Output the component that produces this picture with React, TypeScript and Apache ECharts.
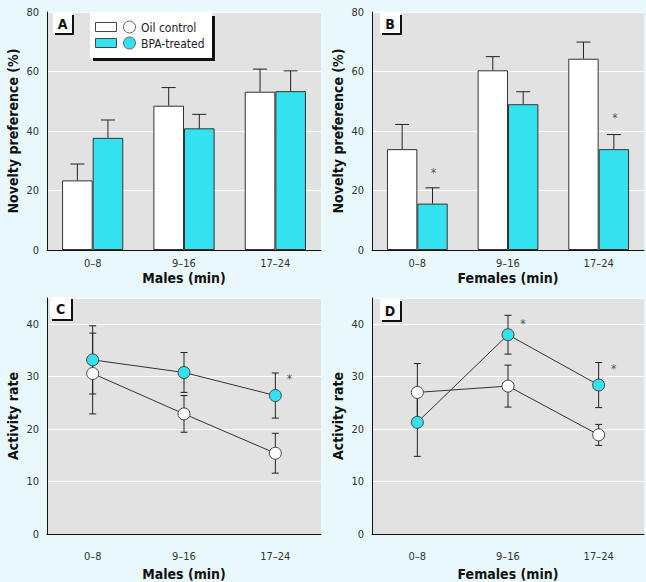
import React, { useEffect, useRef } from "react";
import * as echarts from "echarts";

const categories = ["0–8", "9–16", "17–24"];

// Panel A – males, novelty preference (%)
const maleNovOil = [23.4, 48.5, 53.2];
const maleNovOilSE = [5.5, 6.1, 7.6];
const maleNovBPA = [37.7, 40.9, 53.4];
const maleNovBPASE = [6.0, 4.7, 6.8];

// Panel B – females, novelty preference (%)
const femNovOil = [33.9, 60.4, 64.3];
const femNovOilSE = [8.3, 4.6, 5.6];
const femNovBPA = [15.6, 49.0, 33.9];
const femNovBPASE = [5.3, 4.2, 4.9];
const femNovStars: [number, number][] = [[0, 25.8], [2, 44.3]];

// Panel C – males, activity rate
const maleActOil = [30.6, 22.9, 15.4];
const maleActOilSE = [7.7, 3.5, 3.8];
const maleActBPA = [33.2, 30.8, 26.4];
const maleActBPASE = [6.5, 3.8, 4.3];
const maleActStars: [number, number][] = [[2, 29.5]];

// Panel D – females, activity rate
const femActOil = [27.0, 28.2, 18.9];
const femActOilSE = [5.5, 4.0, 2.0];
const femActBPA = [21.3, 38.0, 28.4];
const femActBPASE = [6.5, 3.7, 4.3];
const femActStars: [number, number][] = [[1, 40.0], [2, 31.5]];

const novTicks = { min: 0, max: 80, interval: 20 };
const actTicks = { min: 0, max: 45, interval: 10 };

const CYAN = "#33E1EF";
const PAGE_BG = "#E8F8FB";
const PLOT_BG = "#E2E2E2";
const FONT = '"Liberation Sans Narrow", "DejaVu Sans Condensed", "Arial Narrow", sans-serif';

export default function App() {
  const ref = useRef<HTMLDivElement>(null);

  useEffect(() => {
    if (!ref.current) return;
    const chart = echarts.init(ref.current, null, { renderer: "svg" });

    const grids = [
      { left: 47, top: 12, width: 274, height: 238 },
      { left: 372, top: 12, width: 272, height: 238 },
      { left: 47, top: 298, width: 274, height: 237 },
      { left: 372, top: 298, width: 272, height: 237 },
    ].map((g) => ({ ...g, show: true, backgroundColor: PLOT_BG, borderWidth: 0 }));

    const xNames = ["Males (min)", "Females (min)", "Males (min)", "Females (min)"];
    const xAxis = xNames.map((n, i) => ({
      type: "category",
      gridIndex: i,
      data: categories,
      boundaryGap: true,
      name: n,
      nameLocation: "middle",
      nameGap: i < 2 ? 21 : 33,
      nameTextStyle: { fontFamily: FONT, fontWeight: "bold", fontSize: 14, color: "#111" },
      axisLine: { lineStyle: { color: "#111", width: 1 } },
      axisTick: { show: false },
      axisLabel: { fontFamily: FONT, fontSize: 11, color: "#333", margin: i < 2 ? 8 : 17 },
    }));

    const yNames = ["Novelty preference (%)", "Novelty preference (%)", "Activity rate", "Activity rate"];
    const yAxis = yNames.map((n, i) => ({
      type: "value",
      gridIndex: i,
      ...(i < 2 ? novTicks : actTicks),
      name: n,
      nameLocation: "middle",
      nameGap: 27,
      nameTextStyle: { fontFamily: FONT, fontWeight: "bold", fontSize: 14, color: "#111" },
      axisLine: { show: true, lineStyle: { color: "#111", width: 1 } },
      axisTick: { show: false },
      axisLabel: { fontFamily: FONT, fontSize: 11, color: "#333", margin: 8, showMaxLabel: i < 2 },
      splitLine: { show: true, lineStyle: { color: "#FFFFFF", width: 1 } },
    }));

    const barSeries = (idx: number, vals: number[], color: string) => ({
      type: "bar",
      xAxisIndex: idx,
      yAxisIndex: idx,
      data: vals,
      barGap: "0%",
      barCategoryGap: "33%",
      itemStyle: { color, borderColor: "#333", borderWidth: 1 },
      z: 2,
    });

    const barErr = (idx: number, vals: number[], se: number[], side: number) => ({
      type: "custom",
      xAxisIndex: idx,
      yAxisIndex: idx,
      data: vals.map((v, i) => [i, v, v + se[i]]),
      z: 3,
      silent: true,
      renderItem: (_p: any, api: any) => {
        const c = api.value(0);
        const p0 = api.coord([c, api.value(1)]);
        const p1 = api.coord([c, api.value(2)]);
        const band = api.size([1, 0])[0];
        const x = p0[0] + side * band * 0.1675;
        const st = { stroke: "#222", lineWidth: 1 };
        return {
          type: "group",
          children: [
            { type: "line", shape: { x1: x, y1: p0[1], x2: x, y2: p1[1] }, style: st },
            { type: "line", shape: { x1: x - 7, y1: p1[1], x2: x + 7, y2: p1[1] }, style: st },
          ],
        };
      },
    });

    const lineSeries = (idx: number, vals: number[], fill: string) => ({
      type: "line",
      xAxisIndex: idx,
      yAxisIndex: idx,
      data: vals,
      symbol: "circle",
      symbolSize: 12,
      lineStyle: { color: "#333", width: 1 },
      itemStyle: { color: fill, borderColor: "#444", borderWidth: 1 },
      z: 4,
    });

    const lineErr = (idx: number, vals: number[], se: number[]) => ({
      type: "custom",
      xAxisIndex: idx,
      yAxisIndex: idx,
      data: vals.map((v, i) => [i, v - se[i], v + se[i]]),
      z: 3,
      silent: true,
      renderItem: (_p: any, api: any) => {
        const c = api.value(0);
        const lo = api.coord([c, api.value(1)]);
        const hi = api.coord([c, api.value(2)]);
        const x = lo[0];
        const st = { stroke: "#222", lineWidth: 1 };
        return {
          type: "group",
          children: [
            { type: "line", shape: { x1: x, y1: lo[1], x2: x, y2: hi[1] }, style: st },
            { type: "line", shape: { x1: x - 3.5, y1: lo[1], x2: x + 3.5, y2: lo[1] }, style: st },
            { type: "line", shape: { x1: x - 3.5, y1: hi[1], x2: x + 3.5, y2: hi[1] }, style: st },
          ],
        };
      },
    });

    const starSeries = (idx: number, pts: [number, number][], dx: number, bandShift: number) => ({
      type: "custom",
      xAxisIndex: idx,
      yAxisIndex: idx,
      data: pts,
      z: 5,
      silent: true,
      renderItem: (_p: any, api: any) => {
        const p = api.coord([api.value(0), api.value(1)]);
        const band = api.size([1, 0])[0];
        return {
          type: "text",
          x: p[0] + dx + bandShift * band,
          y: p[1],
          style: {
            text: "*",
            fontSize: 12,
            fontFamily: FONT,
            fill: "#555555",
            align: "center",
            verticalAlign: "middle",
          },
        };
      },
    });

    const panelLabel = (x: number, y: number, w: number, h: number, t: string) => ({
      type: "group",
      children: [
        { type: "rect", shape: { x: x + 2, y: y + 2, width: w, height: h }, style: { fill: "#111" } },
        { type: "rect", shape: { x, y, width: w, height: h }, style: { fill: "#FFFFFF" } },
        {
          type: "text",
          x: x + w / 2,
          y: y + h / 2 + 1,
          style: { text: t, fontFamily: FONT, fontWeight: "bold", fontSize: 14, fill: "#111", align: "center", verticalAlign: "middle" },
        },
      ],
    });

    const legend = {
      type: "group",
      children: [
        { type: "rect", shape: { x: 93, y: 16, width: 122, height: 45 }, style: { fill: "#111" } },
        { type: "rect", shape: { x: 90, y: 13, width: 122, height: 45 }, style: { fill: "#FFFFFF" } },
        { type: "rect", shape: { x: 95.5, y: 22.5, width: 21, height: 9 }, style: { fill: "#FFFFFF", stroke: "#444", lineWidth: 1 } },
        { type: "circle", shape: { cx: 129.5, cy: 27, r: 6 }, style: { fill: "#FFFFFF", stroke: "#666", lineWidth: 1 } },
        { type: "text", x: 141, y: 27.5, style: { text: "Oil control", fontFamily: FONT, fontSize: 12, fill: "#222", verticalAlign: "middle" } },
        { type: "rect", shape: { x: 95.5, y: 38.5, width: 21, height: 9 }, style: { fill: CYAN, stroke: "#444", lineWidth: 1 } },
        { type: "circle", shape: { cx: 129.5, cy: 43, r: 6 }, style: { fill: CYAN, stroke: "#666", lineWidth: 1 } },
        { type: "text", x: 141, y: 43.5, style: { text: "BPA-treated", fontFamily: FONT, fontSize: 12, fill: "#222", verticalAlign: "middle" } },
      ],
    };

    chart.setOption({
      animation: false,
      backgroundColor: PAGE_BG,
      textStyle: { fontFamily: FONT },
      grid: grids,
      xAxis,
      yAxis,
      series: [
        barSeries(0, maleNovOil, "#FFFFFF"),
        barSeries(0, maleNovBPA, CYAN),
        barErr(0, maleNovOil, maleNovOilSE, -1),
        barErr(0, maleNovBPA, maleNovBPASE, 1),
        barSeries(1, femNovOil, "#FFFFFF"),
        barSeries(1, femNovBPA, CYAN),
        barErr(1, femNovOil, femNovOilSE, -1),
        barErr(1, femNovBPA, femNovBPASE, 1),
        starSeries(1, femNovStars, 1, 0.1675),
        lineErr(2, maleActOil, maleActOilSE),
        lineErr(2, maleActBPA, maleActBPASE),
        lineSeries(2, maleActOil, "#FFFFFF"),
        lineSeries(2, maleActBPA, CYAN),
        starSeries(2, maleActStars, 14, 0),
        lineErr(3, femActOil, femActOilSE),
        lineErr(3, femActBPA, femActBPASE),
        lineSeries(3, femActOil, "#FFFFFF"),
        lineSeries(3, femActBPA, CYAN),
        starSeries(3, femActStars, 15, 0),
      ],
      graphic: [
        panelLabel(53, 13, 19, 20, "A"),
        panelLabel(380, 13, 20, 20, "B"),
        panelLabel(50, 297, 21, 22, "C"),
        panelLabel(380, 299, 20, 21, "D"),
        legend,
      ],
    });

    return () => chart.dispose();
  }, []);

  return (
    <div
      ref={ref}
      style={{ position: "fixed", left: 0, top: 0, width: 646, height: 582, background: PAGE_BG }}
    />
  );
}
